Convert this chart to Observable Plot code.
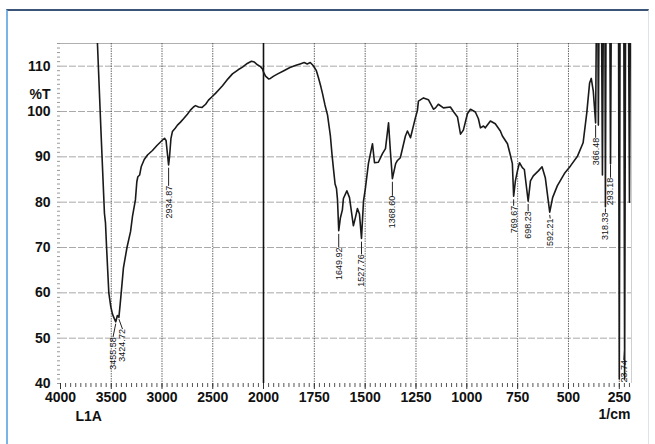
<!DOCTYPE html>
<html><head><meta charset="utf-8">
<script src="https://cdn.jsdelivr.net/npm/d3@7"></script>
<script src="https://cdn.jsdelivr.net/npm/@observablehq/plot@0.6"></script>
<style>
html,body{margin:0;padding:0;background:#fff;}
#wrap{position:relative;width:655px;height:444px;overflow:hidden;}
#frame{position:absolute;left:6px;top:9px;width:643px;height:450px;border-top:2px solid #3a5578;border-left:2px solid #7ab3e6;border-right:1px solid #dde3ea;box-sizing:border-box;pointer-events:none}
#chart{position:absolute;left:0;top:0}
</style></head><body>
<div id="wrap"><div id="chart"></div><div id="frame"></div></div>
<script>
// Spectrum: wavenumber (1/cm) and %T
const wavenumbers = [3680,3636,3600,3567,3557,3547,3535,3524,3505,3488,3470,3455.58,3440,3432,3424.72,3412,3400,3380,3345,3310,3290,3262,3248,3238,3220,3205,3175,3143,3094,3050,3000,2975,2960,2948,2935,2926,2912,2897,2870,2848,2820,2788,2750,2720,2690,2670,2640,2605,2570,2542,2510,2473,2440,2404,2350,2306,2250,2207,2160,2119,2090,2060,2030,2010,2000,1990,1975,1966,1950,1930,1900,1870,1840,1820,1800,1785,1770,1755,1740,1730,1718,1710,1698,1685,1671,1663,1656,1648,1641,1636,1630,1622,1612,1607,1590,1577,1558,1548,1538,1528,1518,1508,1499,1484,1464,1454,1435,1415,1400,1385,1376,1366,1350,1341,1327,1302,1292,1277,1253,1243,1238,1213,1189,1164,1154,1140,1115,1081,1066,1046,1031,1017,997,982,958,943,933,918,909,884,860,835,825,800,786,776,769.67,761,751,741,727,717,698.23,687,673,648,630,614,600,592.21,578,555,520,490,455,428,410,396,388,378,366.48,362,356,353,349,338,333,328,321,318.33,315,297,293.18,289,254,250,246,228,223.74,219,205,200,195,190];
const transmittance = [125,115,95,77.5,75.5,70.5,65,60,57,55.3,54.3,53.6,55,54.8,54.6,57.5,60.5,65.5,70,73.5,77,80.5,84.5,85.6,86,87.8,89.4,90.4,91.4,92.5,93.6,94.1,93.6,91,88.2,90,94,95.6,96.3,97,97.6,98.4,99.4,100.3,101,101.3,101,100.9,101.6,102.5,103.2,104,104.8,105.7,107.2,108.3,109.2,109.8,110.6,111.1,110.9,110.3,109.9,109.4,108.7,107.8,107.2,107.3,107.8,108.3,109,109.7,110.2,110.5,110.8,110.5,110.8,110.1,109,107.5,105.5,104,101.5,99.2,94.6,90.5,87.4,84,83,80.5,73.7,76.5,78.3,80.8,82.5,81,74.8,76.6,78.6,77.4,72,80.3,83,88.5,92.9,88.7,88.8,90.7,91.8,97.5,91.3,85.2,88.5,89.2,89.8,94.6,95.7,94.2,98.6,100.2,102.3,103,102.6,100.5,100.8,101.6,100.8,101,100,98.8,95,95.9,99.5,100.5,99.9,98.4,96.4,96.8,96.4,97.9,97.3,95.7,94.6,92.9,90.4,88.5,81.3,84.7,86.9,88.7,87.6,87.2,80.2,84.7,85.8,86.9,87.8,85.4,80.5,77.8,81,83.6,86.3,88,90.2,93.1,99.7,106.3,107.3,104.5,97.5,125,125,97,125,125,86,125,125,79,125,125,88.5,125,125,41,125,125,41,125,125,80,125,125];

// Axis ticks
const xTicks = [4000,3500,3000,2500,2000,1750,1500,1250,1000,750,500,250];
const xGridTicks = [3500,3000,2500,1750,1500,1250,1000,750,500,250];
const yTicks = [40,50,60,70,80,90,100,110];
const xMinor = d3.range(4000, 2000, -50).concat(d3.range(2000, 190, -25));
const yMinor = d3.range(40, 115.1, 1);

// Peak annotations
const peakText = ["3455.58","3424.72","2934.87","1649.92","1527.76","1368.60","769.67","698.23","592.21","366.48","318.33","293.18","23.74"];
const peakTipX = [3455.58,3424.72,2934.87,1630,1518,1366,769.67,698.23,592.21,366.48,318.33,293.18,223.74];
const peakTipY = [53.2,54.2,87.6,73,71.3,84.5,80.6,79.6,77.2,97,78.6,88.3,47.8];
const peakTextX = [3483,3389,2934.87,1630,1518,1366,769.67,698.23,590,366.48,318.33,293.18,228];
const peakTextY = [50.2,52,83.6,70,68.5,81.4,79.2,78,76.4,94.2,77.7,85.4,45.2];

const spectrum = wavenumbers.map((w, i) => ({w, t: transmittance[i]}));
const peaks = peakText.map((s, i) => ({s, tx: peakTipX[i], ty: peakTipY[i], lx: peakTextX[i], ly: peakTextY[i]}));

const chart = Plot.plot({
  width: 655, height: 444,
  marginLeft: 60, marginRight: 24, marginTop: 43, marginBottom: 61,
  style: {fontFamily: "'Liberation Sans', Arial, sans-serif", background: "transparent", overflow: "visible"},
  x: {type: "linear", domain: [4000, 2000, 190], range: [60, 263, 631], label: null},
  y: {domain: [40, 115], label: null},
  marks: [
    Plot.gridY(yTicks.slice(1), {stroke: "#8c8c8c", strokeOpacity: 0.75, strokeDasharray: "7,2"}),
    Plot.ruleY([115], {stroke: "#b0b0b0"}),
    Plot.gridX(xGridTicks, {stroke: "#444", strokeOpacity: 0.8, strokeDasharray: "1.5,1"}),
    Plot.ruleX([190], {stroke: "#cfcfcf"}),
    Plot.ruleX([2000], {stroke: "#111", strokeWidth: 1.6}),
    Plot.axisX({ticks: xMinor, tickSize: 4, tickFormat: () => "", stroke: "#555", label: null}),
    Plot.axisX({ticks: xTicks, tickSize: 6, tickPadding: 3, fontSize: 14, fontWeight: "bold", stroke: "#333", fill: "#111", tickFormat: d => String(d), label: null}),
    Plot.axisY({ticks: yMinor, tickSize: 3, tickFormat: () => "", stroke: "#999", label: null}),
    Plot.axisY({ticks: yTicks, tickSize: 0, tickPadding: 10, fontSize: 14, fontWeight: "bold", fill: "#111", label: null}),
    Plot.line(spectrum, {x: "w", y: "t", stroke: "#1a1a1a", strokeWidth: 1.6, clip: true}),
    Plot.link(peaks, {x1: "tx", y1: "ty", x2: "lx", y2: "ly", stroke: "#222", strokeWidth: 1}),
    Plot.text(peaks, {x: "lx", y: "ly", text: "s", rotate: -90, textAnchor: "end", fontSize: 9, fill: "#111"}),
    Plot.text(["%T"], {frameAnchor: "top-left", dx: -10, dy: 46, textAnchor: "end", fontSize: 14, fontWeight: "bold", fill: "#111"}),
    Plot.text(["L1A"], {frameAnchor: "bottom-left", dx: 15, dy: 37, fontSize: 14, fontWeight: "bold", fill: "#111"}),
    Plot.text(["1/cm"], {frameAnchor: "bottom-right", dx: -1, dy: 35, textAnchor: "end", fontSize: 14, fontWeight: "bold", fill: "#111"})
  ]
});
document.getElementById("chart").append(chart);
</script>
</body></html>
